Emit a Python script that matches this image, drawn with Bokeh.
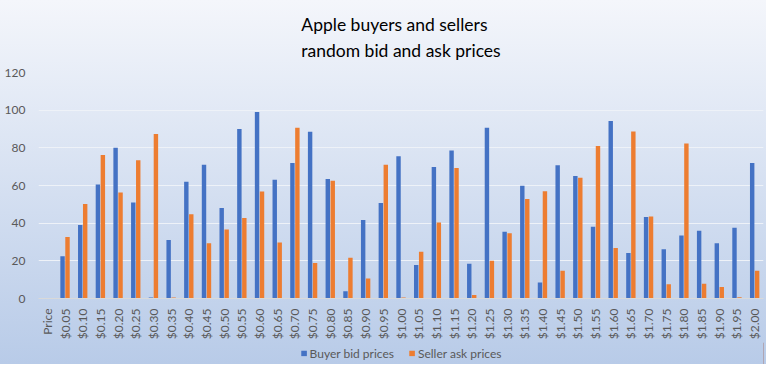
from bokeh.plotting import figure
from bokeh.layouts import column
from bokeh.models import FactorRange, Title, Legend, LegendItem, ColumnDataSource
from bokeh.transform import dodge
from bokeh.embed import file_html
from bokeh.resources import INLINE
import math

categories = ["Price", "$0.05", "$0.10", "$0.15", "$0.20", "$0.25", "$0.30", "$0.35", "$0.40",
              "$0.45", "$0.50", "$0.55", "$0.60", "$0.65", "$0.70", "$0.75", "$0.80", "$0.85",
              "$0.90", "$0.95", "$1.00", "$1.05", "$1.10", "$1.15", "$1.20", "$1.25", "$1.30",
              "$1.35", "$1.40", "$1.45", "$1.50", "$1.55", "$1.60", "$1.65", "$1.70", "$1.75",
              "$1.80", "$1.85", "$1.90", "$1.95", "$2.00"]
buyer_bid = [0, 22.5, 39, 60.5, 80, 51, 0.5, 31, 62, 71, 48, 90, 99, 63, 72, 88.5, 63.5, 3.8,
             41.7, 50.7, 75.5, 17.8, 69.8, 78.6, 18.4, 90.6, 35.5, 59.9, 8.5, 70.8, 65.1, 38.1,
             94.2, 24.1, 43.3, 26.1, 33.4, 36, 29.3, 37.6, 71.9]
seller_ask = [0, 32.7, 50.2, 76.2, 56.3, 73.4, 87.4, 0.5, 44.8, 29.3, 36.7, 42.8, 56.8, 29.8,
              90.6, 18.9, 62.5, 21.6, 10.6, 71, 0.5, 24.8, 40.3, 69.3, 1.9, 20.1, 34.6, 52.8,
              57, 14.7, 64.1, 81, 26.8, 88.7, 43.6, 7.6, 82.3, 7.8, 6.1, 0.7, 14.7]
y_ticks = [0, 20, 40, 60, 80, 100, 120]
series_names = ["Buyer bid prices", "Seller ask prices"]
series_colors = ["#4472C4", "#ED7D31"]

src = ColumnDataSource(dict(cat=categories, buyer=buyer_bid, seller=seller_ask))

p = figure(width=766, height=342, x_range=FactorRange(*categories, range_padding=0),
           y_range=(0, 120), output_backend="svg", toolbar_location=None,
           min_border_left=38, min_border_right=3, min_border_top=72, min_border_bottom=39)
p.background_fill_alpha = 0
p.border_fill_alpha = 0
p.outline_line_color = None

p.vbar(x=dodge("cat", -0.14, range=p.x_range), top="buyer", width=0.25, source=src,
       color=series_colors[0], line_color=None)
p.vbar(x=dodge("cat", 0.14, range=p.x_range), top="seller", width=0.25, source=src,
       color=series_colors[1], line_color=None)

p.xgrid.grid_line_color = None
p.ygrid.grid_line_color = "#eef2f8"
p.ygrid.grid_line_width = 1
p.yaxis.ticker = y_ticks
p.yaxis.axis_line_color = None
p.yaxis.major_tick_line_color = None
p.yaxis.minor_tick_line_color = None
p.yaxis.major_label_text_font = "Lato"
p.yaxis.major_label_text_font_size = "12px"
p.yaxis.major_label_text_color = "#595959"
p.yaxis.major_label_standoff = 7

p.xaxis.axis_line_color = "#d9d9d9"
p.xaxis.major_tick_line_color = None
p.xaxis.minor_tick_line_color = None
p.xaxis.major_label_orientation = math.pi / 2
p.xaxis.major_label_text_font = "Lato"
p.xaxis.major_label_text_font_size = "12px"
p.xaxis.major_label_text_color = "#595959"
p.xaxis.major_label_standoff = 4

p.add_layout(Title(text="Apple buyers and sellers\nrandom bid and ask prices", align="center",
                   text_font="Lato", text_font_size="17.5px", text_font_style="normal",
                   text_color="#000000", text_line_height=1.24, standoff=22), "above")

# legend strip
lg = figure(width=766, height=22, x_range=(0, 1), y_range=(0, 1), output_backend="svg",
            toolbar_location=None, min_border=0)
lg.background_fill_alpha = 0
lg.border_fill_alpha = 0
lg.outline_line_color = None
lg.axis.visible = False
lg.grid.visible = False
r1 = lg.vbar(x=[5], top=[5], width=0.1, color=series_colors[0], line_color=None)
r2 = lg.vbar(x=[5], top=[5], width=0.1, color=series_colors[1], line_color=None)
legend = Legend(items=[LegendItem(label=series_names[0], renderers=[r1]),
                       LegendItem(label=series_names[1], renderers=[r2])],
                orientation="horizontal", location="center",
                label_text_font="Lato", label_text_font_size="12px", label_text_color="#595959",
                glyph_width=7, glyph_height=7, label_standoff=3, spacing=14,
                background_fill_alpha=0, border_line_color=None, padding=0, margin=0)
lg.add_layout(legend, "center")

layout = column(p, lg, spacing=0)
layout.styles = {"background-image": "linear-gradient(#f4f6fb, #b8cbe8)"}

open("out.html", "w").write(file_html(layout, INLINE))
